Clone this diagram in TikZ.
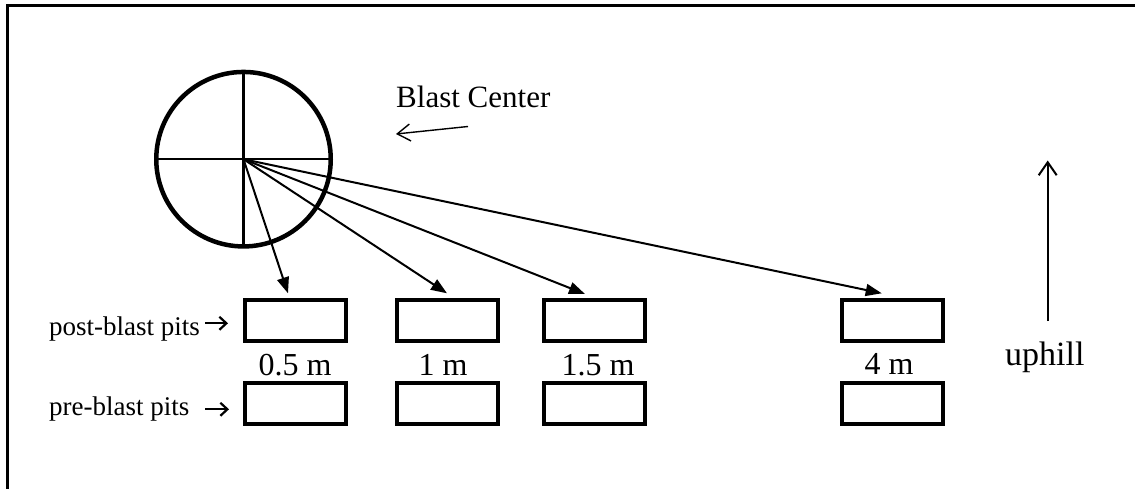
\documentclass[tikz,border=0pt]{standalone}
\usepackage{fontspec}
\setmainfont{Liberation Serif}
\usetikzlibrary{arrows.meta}
\begin{document}
\begin{tikzpicture}[x=1pt,y=-1pt,
  pit/.style={draw, line width=4pt, minimum width=101pt, minimum height=41pt, inner sep=0pt},
  lbl/.style={inner sep=0pt},
  dist/.style={lbl, anchor=base, font=\fontsize{32}{36}\selectfont},
  side/.style={lbl, anchor=base west, font=\fontsize{27}{30}\selectfont},
  ray/.style={line width=2pt, -{Triangle[length=16pt,width=12pt]}},
  cross/.style={line width=2.2pt},
  glypharrow/.style={line width=2pt, -{Straight Barb[length=7pt,width=13pt,line width=2.2pt]}},
  thinarrow/.style={line width=1.4pt, -{Straight Barb[length=13pt,width=17pt,line width=1.4pt]}},
  uparrow/.style={line width=2pt, -{Straight Barb[length=13pt,width=18pt,line width=2pt]}}]
\useasboundingbox (0,0) rectangle (1135,489);
% frame
\draw[line width=2.7pt] (7.3,489) -- (7.3,5.3) -- (1135,5.3);
% blast circle
\node[circle, draw, line width=4.5pt, minimum size=174.5pt, inner sep=0pt] (bc) at (243.5,159.2) {};
\draw[cross] ([xshift=2pt]bc.west) -- ([xshift=-2pt]bc.east);
\draw[cross] ([yshift=-2pt]bc.north) -- ([yshift=2pt]bc.south);
% pits
\node[pit] (p1) at (295.5,320.5) {};
\node[pit] (p2) at (447.5,320.5) {};
\node[pit] (p3) at (594.5,320.5) {};
\node[pit] (p4) at (892,320.5) {};
\node[pit] (q1) at (295.5,403.5) {};
\node[pit] (q2) at (447.5,403.5) {};
\node[pit] (q3) at (594.5,403.5) {};
\node[pit] (q4) at (892,403.5) {};
% rays
\draw[ray] (bc.center) -- ([xshift=-7.5pt,yshift=4.7pt]p1.north);
\draw[ray] (bc.center) -- ([xshift=-0.5pt,yshift=4.7pt]p2.north);
\draw[ray] (bc.center) -- ([xshift=-9.5pt,yshift=4pt]p3.north);
\draw[ray] (bc.center) -- ([xshift=-10.3pt,yshift=4.7pt]p4.north);
% distance labels
\node[dist] (d1) at (295,375) {0.5 m};
\node[dist] (d2) at (443,375) {1 m};
\node[dist] (d3) at (598,375) {1.5 m};
\node[dist] (d4) at (889,374) {4 m};
% blast center label
\node[lbl, anchor=base west, font=\fontsize{31}{36}\selectfont] (blt) at (396,108) {Blast Center};
\coordinate (ba1) at (468,126.5);
\coordinate (ba2) at (396,134);
\draw[thinarrow] (ba1) -- (ba2);
% side labels
\node[side] (post) at (49,335) {post-blast pits};
\node[side] (pre) at (49,415) {pre-blast pits};
\coordinate (pa1) at (205,323.3);
\coordinate (pa2) at (228,323.3);
\draw[glypharrow] (pa1) -- (pa2);
\coordinate (pb1) at (205,409.3);
\coordinate (pb2) at (229,409.3);
\draw[glypharrow] (pb1) -- (pb2);
% uphill
\node[lbl, anchor=base west, font=\fontsize{34}{38}\selectfont] (up) at (1005,365) {uphill};
\coordinate (u1) at (1047.7,321);
\coordinate (u2) at (1047.7,160.5);
\draw[uparrow] (u1) -- (u2);
\end{tikzpicture}
\end{document}
